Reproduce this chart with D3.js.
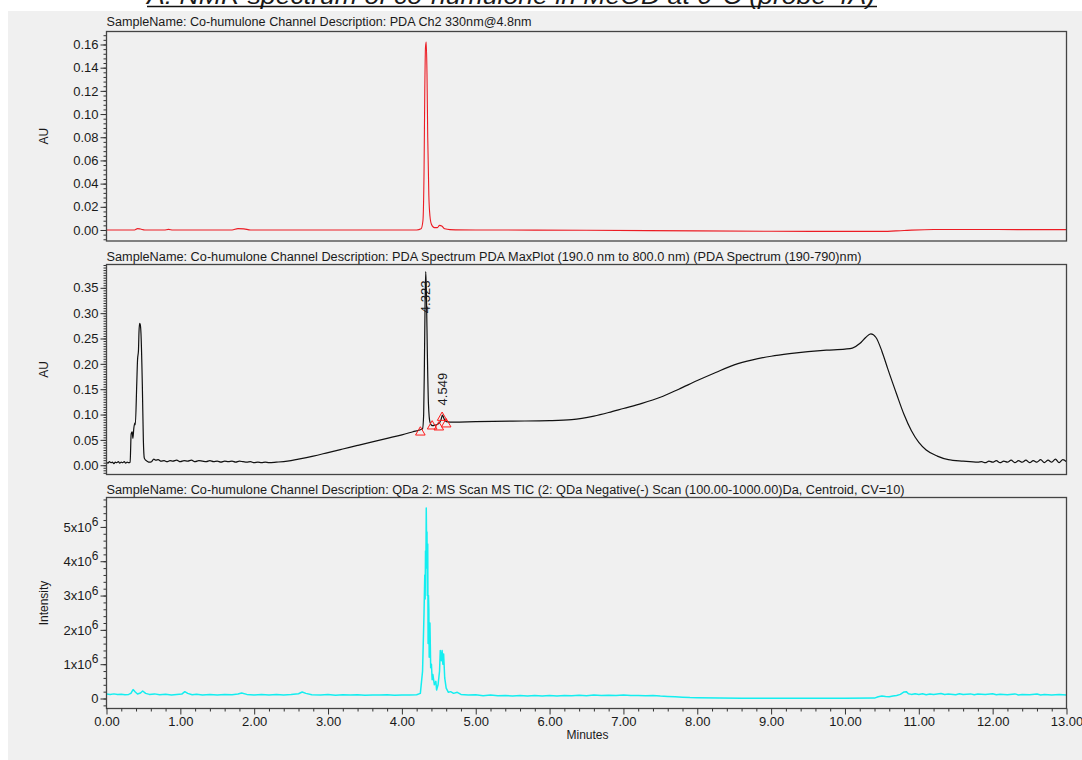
<!DOCTYPE html>
<html>
<head>
<meta charset="utf-8">
<script src="https://cdn.jsdelivr.net/npm/d3@7"></script>
<style>
  html, body { margin: 0; padding: 0; background: #ffffff; }
  svg { display: block; }
  text { font-family: "Liberation Sans", Arial, sans-serif; fill: #1a1a1a; }
</style>
</head>
<body>
<svg id="chart" width="1082" height="760"></svg>
<script>
// ---------------- DATA ----------------
const titleText = "A. NMR spectrum of co-humulone in MeOD at 0°C (probe 4A)";
const headers = [
  "SampleName: Co-humulone Channel Description: PDA Ch2 330nm@4.8nm",
  "SampleName: Co-humulone Channel Description: PDA Spectrum PDA MaxPlot (190.0 nm to 800.0 nm) (PDA Spectrum (190-790)nm)",
  "SampleName: Co-humulone Channel Description: QDa 2: MS Scan MS TIC (2: QDa Negative(-) Scan (100.00-1000.00)Da, Centroid, CV=10)"
];
const yLabels = ["AU", "AU", "Intensity"];
const xLabel = "Minutes";

// Panel 1: PDA Ch2 330 nm (AU)
const pdaTime = [0, 0.38, 0.42, 0.46, 0.52, 0.78, 0.84, 0.9, 1.7, 1.78, 1.86, 1.95, 4.2, 4.26, 4.285, 4.30, 4.31, 4.32, 4.33, 4.34, 4.35, 4.365, 4.38, 4.40, 4.44, 4.48, 4.51, 4.54, 4.58, 4.65, 5.0, 6.5, 8.0, 9.0, 10.0, 10.5, 10.8, 11.2, 13.0];
const pdaAU = [0, 0, 0.0012, 0.0008, 0, 0, 0.0005, 0, 0, 0.0012, 0.001, 0, 0, 0.001, 0.008, 0.05, 0.12, 0.158, 0.162, 0.135, 0.08, 0.03, 0.012, 0.005, 0.002, 0.002, 0.004, 0.0035, 0.001, 0.0003, 0, -0.0002, -0.0008, -0.0011, -0.0012, -0.0012, -0.0004, 0.0004, 0.0003];

// Panel 2: PDA MaxPlot (AU)
const maxTime = [0, 0.02, 0.04, 0.06, 0.08, 0.10, 0.12, 0.14, 0.16, 0.18, 0.20, 0.22, 0.24, 0.26, 0.28, 0.30, 0.32,
  0.334, 0.348, 0.357, 0.37, 0.383, 0.39, 0.41, 0.42, 0.433, 0.44, 0.449, 0.458, 0.467, 0.485, 0.499, 0.512, 0.53,
  0.55, 0.58, 0.61, 0.64, 0.67, 0.70, 0.74, 0.78, 0.82, 0.86, 0.90, 0.95, 1.00, 1.05, 1.10, 1.15, 1.20, 1.25, 1.30, 1.35, 1.40, 1.45, 1.50, 1.55, 1.60, 1.65, 1.70, 1.75, 1.80, 1.85, 1.90, 1.95, 2.00, 2.05, 2.10, 2.15, 2.20, 2.30,
  2.45, 2.6, 2.8, 3.0, 3.2, 3.4, 3.6, 3.8, 4.0, 4.15, 4.25, 4.28, 4.295, 4.305, 4.315, 4.323, 4.332, 4.345, 4.36, 4.38, 4.41, 4.45, 4.5, 4.53, 4.549, 4.57, 4.6, 4.7,
  5.0, 5.5, 6.0, 6.3, 6.6, 6.8, 7.0, 7.25, 7.5, 7.75, 8.0, 8.25, 8.5, 8.75, 9.0, 9.25, 9.5, 9.75, 10.0, 10.1, 10.2, 10.28, 10.35, 10.42, 10.5, 10.58, 10.7, 10.8, 10.9, 11.0, 11.1, 11.25, 11.4, 11.6, 11.8,
  11.85, 11.9, 11.95, 12.0, 12.05, 12.1, 12.15, 12.2, 12.25, 12.3, 12.35, 12.4, 12.45, 12.5, 12.55, 12.6, 12.65, 12.7, 12.75, 12.8, 12.85, 12.9, 12.95, 13.0];
const maxAU = [0.006, 0.004, 0.007, 0.005, 0.006, 0.003, 0.006, 0.005, 0.007, 0.004, 0.006, 0.005, 0.007, 0.004, 0.006, 0.005, 0.006,
  0.062, 0.066, 0.053, 0.073, 0.083, 0.08, 0.162, 0.207, 0.227, 0.263, 0.28, 0.277, 0.26, 0.16, 0.05, 0.014, 0.01,
  0.008, 0.006, 0.007, 0.012, 0.010, 0.011, 0.008, 0.009, 0.007, 0.009, 0.008, 0.010, 0.007, 0.009, 0.008, 0.010, 0.007, 0.009, 0.008, 0.007, 0.009, 0.007, 0.008, 0.006, 0.008, 0.007, 0.008, 0.006, 0.008, 0.007, 0.006, 0.007, 0.005, 0.006, 0.005, 0.006, 0.005, 0.006,
  0.008, 0.012, 0.018, 0.025, 0.032, 0.039, 0.046, 0.053, 0.060, 0.066, 0.070, 0.072, 0.10, 0.2, 0.33, 0.382, 0.34, 0.22, 0.12, 0.085, 0.078, 0.079, 0.082, 0.09, 0.099, 0.092, 0.086, 0.085,
  0.086, 0.087, 0.088, 0.09, 0.097, 0.104, 0.112, 0.122, 0.134, 0.15, 0.167, 0.183, 0.198, 0.208, 0.215, 0.22, 0.224, 0.227, 0.229, 0.231, 0.24, 0.252, 0.259, 0.252, 0.225, 0.19, 0.14, 0.1, 0.068, 0.045, 0.03, 0.018, 0.011, 0.008, 0.006,
  0.007, 0.005, 0.008, 0.006, 0.009, 0.005, 0.008, 0.006, 0.010, 0.005, 0.009, 0.006, 0.010, 0.005, 0.009, 0.006, 0.011, 0.005, 0.010, 0.006, 0.012, 0.005, 0.011, 0.007];

// Integration markers and peak labels on panel 2
const markerTime = [4.25, 4.41, 4.50, 4.545, 4.60];
const markerAU = [0.065, 0.077, 0.075, 0.094, 0.081];
const peakLabelTime = [4.323, 4.549];
const peakLabelText = ["4.323", "4.549"];
const peakLabelAU = [0.30, 0.118];

// Panel 3: QDa MS TIC (intensity)
const ticTime = [0.00, 0.05, 0.10, 0.15, 0.20, 0.25, 0.30, 0.33, 0.36, 0.39, 0.42, 0.46, 0.49, 0.53, 0.58, 0.65, 0.72, 0.80, 0.88, 0.95, 1.02, 1.06, 1.10, 1.16, 1.22, 1.30, 1.40, 1.50, 1.60, 1.70, 1.78, 1.83, 1.90, 2.00, 2.10, 2.20, 2.30, 2.40, 2.50, 2.60, 2.65, 2.70, 2.78, 2.90, 3.00, 3.10, 3.20, 3.30, 3.40, 3.50, 3.60, 3.70, 3.80, 3.90, 4.00, 4.10, 4.20,
  4.25, 4.28, 4.30, 4.31, 4.315, 4.32, 4.325, 4.33, 4.335, 4.34, 4.345, 4.35, 4.355, 4.36, 4.365, 4.37, 4.38, 4.39, 4.40, 4.41, 4.42, 4.44, 4.46, 4.47, 4.49, 4.51, 4.52, 4.535, 4.545, 4.555, 4.565, 4.58, 4.60, 4.63, 4.66, 4.70, 4.75, 4.80, 4.90,
  5.0, 5.1, 5.2, 5.3, 5.4, 5.5, 5.6, 5.7, 5.8, 5.9, 6.0, 6.1, 6.2, 6.3, 6.4, 6.5, 6.6, 6.7, 6.8, 6.9, 7.0, 7.1, 7.2, 7.3, 7.4, 7.5, 7.6, 7.7, 7.8, 7.9, 8.0, 8.3, 8.6, 9.0, 9.5, 10.0, 10.4, 10.45, 10.5, 10.55, 10.6, 10.65, 10.7, 10.75, 10.8, 10.83, 10.86, 10.9, 10.95, 11.0,
  11.05, 11.1, 11.15, 11.2, 11.3, 11.35, 11.4, 11.5, 11.55, 11.6, 11.7, 11.75, 11.8, 11.9, 12.0, 12.05, 12.1, 12.2, 12.3, 12.35, 12.4, 12.5, 12.6, 12.65, 12.7, 12.8, 12.9, 13.0];
const ticIntensity = [130000, 120000, 135000, 115000, 125000, 110000, 120000, 150000, 260000, 190000, 130000, 160000, 220000, 150000, 120000, 135000, 110000, 125000, 105000, 120000, 130000, 200000, 150000, 110000, 125000, 105000, 120000, 100000, 115000, 110000, 130000, 160000, 120000, 105000, 120000, 100000, 115000, 105000, 120000, 140000, 190000, 150000, 110000, 100000, 115000, 95000, 110000, 100000, 110000, 95000, 105000, 100000, 110000, 95000, 105000, 100000, 110000,
  150000, 800000, 2500000, 3600000, 2900000, 4300000, 3800000, 5550000, 4500000, 4850000, 3000000, 4500000, 1600000, 3000000, 2600000, 1200000, 2200000, 900000, 1000000, 550000, 700000, 400000, 500000, 250000, 400000, 800000, 1400000, 1100000, 1400000, 1000000, 1300000, 600000, 300000, 180000, 200000, 150000, 180000, 120000, 100000,
  110000, 80000, 100000, 80000, 90000, 70000, 90000, 70000, 85000, 70000, 90000, 75000, 90000, 80000, 95000, 80000, 100000, 85000, 95000, 90000, 100000, 85000, 90000, 80000, 85000, 70000, 60000, 50000, 40000, 30000, 25000, 15000, 10000, 10000, 10000, 10000, 12000, 50000, 75000, 60000, 50000, 70000, 90000, 120000, 190000, 200000, 140000, 120000, 140000, 120000,
  140000, 110000, 130000, 120000, 145000, 115000, 130000, 110000, 140000, 120000, 135000, 110000, 130000, 115000, 140000, 110000, 125000, 110000, 135000, 105000, 120000, 110000, 130000, 100000, 120000, 105000, 115000, 100000];

// Ticks
const xMajorTicks = [0, 1, 2, 3, 4, 5, 6, 7, 8, 9, 10, 11, 12, 13];
const y1MajorTicks = [0, 0.02, 0.04, 0.06, 0.08, 0.10, 0.12, 0.14, 0.16];
const y2MajorTicks = [0, 0.05, 0.10, 0.15, 0.20, 0.25, 0.30, 0.35];
const y3MajorTicks = [0, 1e6, 2e6, 3e6, 4e6, 5e6];

// ---------------- LAYOUT ----------------
const svg = d3.select("#chart");
const W = 1082, H = 760;
const plotLeft = 106.5, plotRight = 1066.5;
const xDomain = [0, 13];
const colors = ["#ec1c24", "#111111", "#14eef0"];
const headerWidths = [425, 755, 798];

svg.append("rect").attr("x", 8).attr("y", 11).attr("width", W - 8).attr("height", H - 11).attr("fill", "#f0f0f0");

// title at top (clipped by the page edge as in the reference)
svg.append("text")
  .attr("x", 147).attr("y", 4)
  .attr("font-size", 23).attr("font-style", "italic")
  .attr("textLength", 728).attr("lengthAdjust", "spacingAndGlyphs")
  .text(titleText);
svg.append("line").attr("x1", 147).attr("x2", 877).attr("y1", 6.5).attr("y2", 6.5)
  .attr("stroke", "#111").attr("stroke-width", 1.5);

const x = d3.scaleLinear().domain(xDomain).range([plotLeft, plotRight]);

const panels = [
  { top: 31.5, bottom: 241, domain: [-0.0095, 0.1712], major: y1MajorTicks, minorStep: 0.004, time: pdaTime, vals: pdaAU, color: colors[0], header: headers[0], headerY: 26, ylabel: yLabels[0], fmt: d3.format(".2f"), curve: d3.curveMonotoneX, sw: 1.1 },
  { top: 264.5, bottom: 474.5, domain: [-0.0183, 0.396], major: y2MajorTicks, minorStep: 0.005, time: maxTime, vals: maxAU, color: colors[1], header: headers[1], headerY: 261, ylabel: yLabels[1], fmt: d3.format(".2f"), curve: d3.curveMonotoneX, sw: 1.2 },
  { top: 497.5, bottom: 708.5, domain: [-0.291e6, 5.857e6], major: y3MajorTicks, minorStep: 0.2e6, time: ticTime, vals: ticIntensity, color: colors[2], header: headers[2], headerY: 494, ylabel: yLabels[2], fmt: null, curve: d3.curveLinear, sw: 1.5 }
];

panels.forEach((p, i) => {
  const y = d3.scaleLinear().domain(p.domain).range([p.bottom, p.top]);
  p.y = y;
  const g = svg.append("g");

  // header
  g.append("text").attr("x", plotLeft).attr("y", p.headerY)
    .attr("font-size", 12).attr("textLength", headerWidths[i]).attr("lengthAdjust", "spacingAndGlyphs")
    .text(p.header);

  const clipId = "clip" + i;
  svg.append("clipPath").attr("id", clipId).append("rect")
    .attr("x", plotLeft).attr("y", p.top).attr("width", plotRight - plotLeft).attr("height", p.bottom - p.top);

  // minor ticks
  const minor = d3.range(Math.ceil(p.domain[0] / p.minorStep), Math.floor(p.domain[1] / p.minorStep) + 1)
    .map(k => k * p.minorStep);
  const ma = g.append("g").attr("transform", `translate(${plotLeft},0)`)
    .call(d3.axisLeft(y).tickValues(minor).tickSize(3).tickFormat(""));
  ma.select(".domain").remove();
  ma.selectAll("line").attr("stroke", "#333");

  const majorAxis = d3.axisLeft(y).tickValues(p.major).tickSize(6).tickPadding(2);
  if (p.fmt) majorAxis.tickFormat(p.fmt);
  const mj = g.append("g").attr("transform", `translate(${plotLeft},0)`).call(majorAxis);
  mj.select(".domain").remove();
  mj.selectAll("line").attr("stroke", "#333");
  mj.selectAll("text").attr("font-size", 13).attr("font-family", "Liberation Sans, Arial, sans-serif").attr("fill", "#1a1a1a");
  if (!p.fmt) {
    mj.selectAll(".tick text").each(function(d) {
      const t = d3.select(this);
      t.text(null);
      if (d === 0) { t.text("0"); return; }
      t.append("tspan").text(`${d / 1e6}x10`);
      t.append("tspan").attr("dy", "-0.45em").attr("font-size", 12).text("6");
    });
  }

  // y label
  g.append("text")
    .attr("transform", `translate(48,${(p.top + p.bottom) / 2}) rotate(-90)`)
    .attr("text-anchor", "middle").attr("font-size", 12).text(p.ylabel);

  // line
  const pts = p.time.map((t, k) => [t, p.vals[k]]);
  const line = d3.line().curve(p.curve).x(d => x(d[0])).y(d => y(d[1]));
  g.append("path").datum(pts).attr("clip-path", `url(#${clipId})`)
    .attr("d", line).attr("fill", "none").attr("stroke", p.color).attr("stroke-width", p.sw)
    .attr("stroke-linejoin", "round");

  // frame
  g.append("rect").attr("x", plotLeft).attr("y", p.top).attr("width", plotRight - plotLeft).attr("height", p.bottom - p.top)
    .attr("fill", "none").attr("stroke", "#444").attr("stroke-width", 1.3);
});

// markers + labels on panel 2
const p2 = panels[1];
const tri = d3.symbol().type(d3.symbolTriangle).size(40);
svg.append("g").selectAll("path").data(markerTime.map((t, k) => [t, markerAU[k]])).join("path")
  .attr("transform", d => `translate(${x(d[0])},${p2.y(d[1])})`)
  .attr("d", tri).attr("fill", "none").attr("stroke", "#ff1a1a").attr("stroke-width", 1);
svg.append("g").selectAll("text").data(peakLabelTime.map((t, k) => [t, peakLabelAU[k], peakLabelText[k]])).join("text")
  .attr("transform", d => `translate(${x(d[0]) + 4.5},${p2.y(d[1])}) rotate(-90)`)
  .attr("font-size", 13).text(d => d[2]);

// x axis on panel 3
const p3 = panels[2];
const xMinor = d3.range(0, 66).map(k => k * 0.2).filter(v => Math.abs(v - Math.round(v)) > 1e-6);
const xa1 = svg.append("g").attr("transform", `translate(0,${p3.bottom})`)
  .call(d3.axisBottom(x).tickValues(xMinor).tickSize(3).tickFormat(""));
xa1.select(".domain").remove();
xa1.selectAll("line").attr("stroke", "#333");
const xa2 = svg.append("g").attr("transform", `translate(0,${p3.bottom})`)
  .call(d3.axisBottom(x).tickValues(xMajorTicks).tickSize(6).tickPadding(2).tickFormat(d3.format(".2f")));
xa2.select(".domain").remove();
xa2.selectAll("line").attr("stroke", "#333");
xa2.selectAll("text").attr("font-size", 13).attr("font-family", "Liberation Sans, Arial, sans-serif").attr("fill", "#1a1a1a");

svg.append("text").attr("x", (plotLeft + plotRight) / 2 + 1).attr("y", 739)
  .attr("text-anchor", "middle").attr("font-size", 12).text(xLabel);
</script>
</body>
</html>
